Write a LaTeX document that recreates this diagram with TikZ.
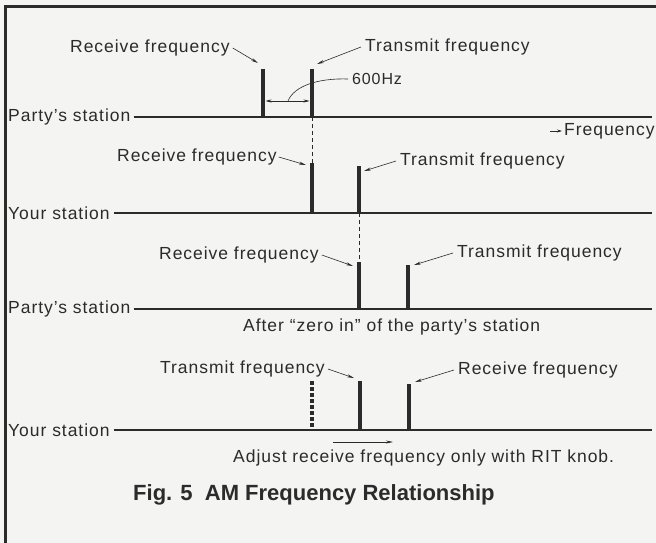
\documentclass[tikz,border=0pt]{standalone}
\usepackage{fontspec}
\setmainfont{Liberation Sans}[LetterSpace=5.5]
\newfontfamily\capfont{Liberation Sans}
\usetikzlibrary{calc, arrows.meta}
\definecolor{ink}{HTML}{2B2B2B}
\definecolor{paper}{HTML}{F4F4F3}

\begin{document}
\begin{tikzpicture}[x=1pt,y=-1pt,
        lbl/.style={inner sep=0pt, text=ink, font=\fontsize{17.5}{20}\selectfont},
        base/.style={ink, line width=2pt},
        bar/.style={ink, line width=4.5pt},
        lead/.style={ink, line width=0.6pt, -{Stealth[length=7pt,width=3pt]}},
        guide/.style={ink, line width=0.8pt, dash pattern=on 4pt off 3pt}]
    \useasboundingbox (0,0) rectangle (656,543);
    \fill[paper] (0,0) rectangle (656,543);
    \draw[ink, line width=3pt] (656,6.5) -- (5,6.5) -- (5,543);

    \node[lbl,anchor=west] (party1) at (8,117) {Party's station};
    \coordinate (end1) at (652,117);
    \draw[base] ([xshift=3pt]party1.east) -- (end1);
    \coordinate (rx1) at (263,69);
    \coordinate (tx1) at (312,69);
    \draw[bar] (rx1) -- (rx1 |- end1);
    \draw[bar] (tx1) -- (tx1 |- end1);
    \node[lbl,anchor=west] (rlab1) at (70,48) {Receive frequency};
    \draw[lead] ([xshift=3pt]rlab1.east) -- ([xshift=-5pt,yshift=6pt]rx1);
    \node[lbl,anchor=west] (tlab1) at (365,47) {Transmit frequency};
    \draw[lead] ([xshift=-4pt]tlab1.west) -- ([xshift=5pt,yshift=5pt]tx1);
    \coordinate (hza) at (265.5,101);
    \coordinate (hzb) at (309.5,101);
    \coordinate (hzm) at (288,101);
    \draw[ink, line width=0.6pt, {Stealth[length=6pt,width=3pt]}-{Stealth[length=6pt,width=3pt]}] (hza) -- (hzb);
    \node[lbl,anchor=west,font=\fontsize{16}{18}\selectfont] (hz) at (352,79) {600Hz};
    \draw[ink, line width=0.6pt] ([xshift=-4pt]hz.west) .. controls (318,78) and (294,86) .. (hzm);
    \coordinate (fq0) at (550,131);
    \node[lbl,anchor=west] (freq) at (564,131) {Frequency};
    \draw[ink, line width=0.7pt, -{Stealth[length=5pt,width=3pt]}] (fq0) -- ([xshift=-2pt]freq.west);

    \node[lbl,anchor=west] (your1) at (8,213) {Your station};
    \coordinate (end2) at (652,213);
    \draw[base] ([xshift=4pt]your1.east) -- (end2);
    \coordinate (rx2) at (312,163);
    \coordinate (tx2) at (359,166);
    \draw[bar] (rx2) -- (rx2 |- end2);
    \draw[bar] (tx2) -- (tx2 |- end2);
    \draw[guide] (tx1 |- end1) -- (rx2);
    \node[lbl,anchor=west] (rlab2) at (117,157) {Receive frequency};
    \draw[lead] ([xshift=2pt]rlab2.east) -- ([xshift=-6pt,yshift=-2pt]rx2);
    \node[lbl,anchor=west] (tlab2) at (400,161) {Transmit frequency};
    \draw[lead] ([xshift=-4pt]tlab2.west) -- ([xshift=5pt,yshift=-5pt]tx2);

    \node[lbl,anchor=west] (party2) at (8,309) {Party's station};
    \coordinate (end3) at (652,309);
    \draw[base] ([xshift=3pt]party2.east) -- (end3);
    \coordinate (rx3) at (359,262);
    \coordinate (tx3) at (408,265);
    \draw[bar] (rx3) -- (rx3 |- end3);
    \draw[bar] (tx3) -- (tx3 |- end3);
    \draw[guide] (tx2 |- end2) -- (rx3);
    \node[lbl,anchor=west] (rlab3) at (159,255) {Receive frequency};
    \draw[lead] ([xshift=3pt]rlab3.east) -- ([xshift=-6pt,yshift=-4pt]rx3);
    \node[lbl,anchor=west] (tlab3) at (457,253) {Transmit frequency};
    \draw[lead] ([xshift=-4pt]tlab3.west) -- ([xshift=6pt,yshift=0pt]tx3);
    \node[lbl,anchor=west] (zero) at (243,327) {After “zero in” of the party's station};

    \node[lbl,anchor=west] (your2) at (8,430) {Your station};
    \coordinate (end4) at (652,430);
    \draw[base] ([xshift=4pt]your2.east) -- (end4);
    \coordinate (old4) at (312,381);
    \coordinate (tx4) at (360,381);
    \coordinate (rx4) at (409,384);
    \draw[bar, line width=3.5pt, dash pattern=on 4pt off 2pt] (old4) -- (old4 |- end4);
    \draw[bar] (tx4) -- (tx4 |- end4);
    \draw[bar] (rx4) -- (rx4 |- end4);
    \node[lbl,anchor=west] (tlab4) at (160,369) {Transmit frequency};
    \draw[lead] ([xshift=3pt]tlab4.east) -- ([xshift=-6pt,yshift=3pt]tx4);
    \node[lbl,anchor=west] (rlab4) at (458,370) {Receive frequency};
    \draw[lead] ([xshift=-4pt]rlab4.west) -- ([xshift=6pt,yshift=2pt]rx4);
    \coordinate (rit0) at (333,442);
    \coordinate (rit1) at (393,442);
    \draw[lead] (rit0) -- (rit1);
    \node[lbl,anchor=west] (rit) at (233,458) {Adjust receive frequency only with RIT knob.};

    \node[anchor=west, inner sep=0pt, text=ink, font=\capfont\bfseries\fontsize{22}{26}\selectfont] (cap) at (133,495) {Fig. 5\ \ AM Frequency Relationship};
\end{tikzpicture}
\end{document}
